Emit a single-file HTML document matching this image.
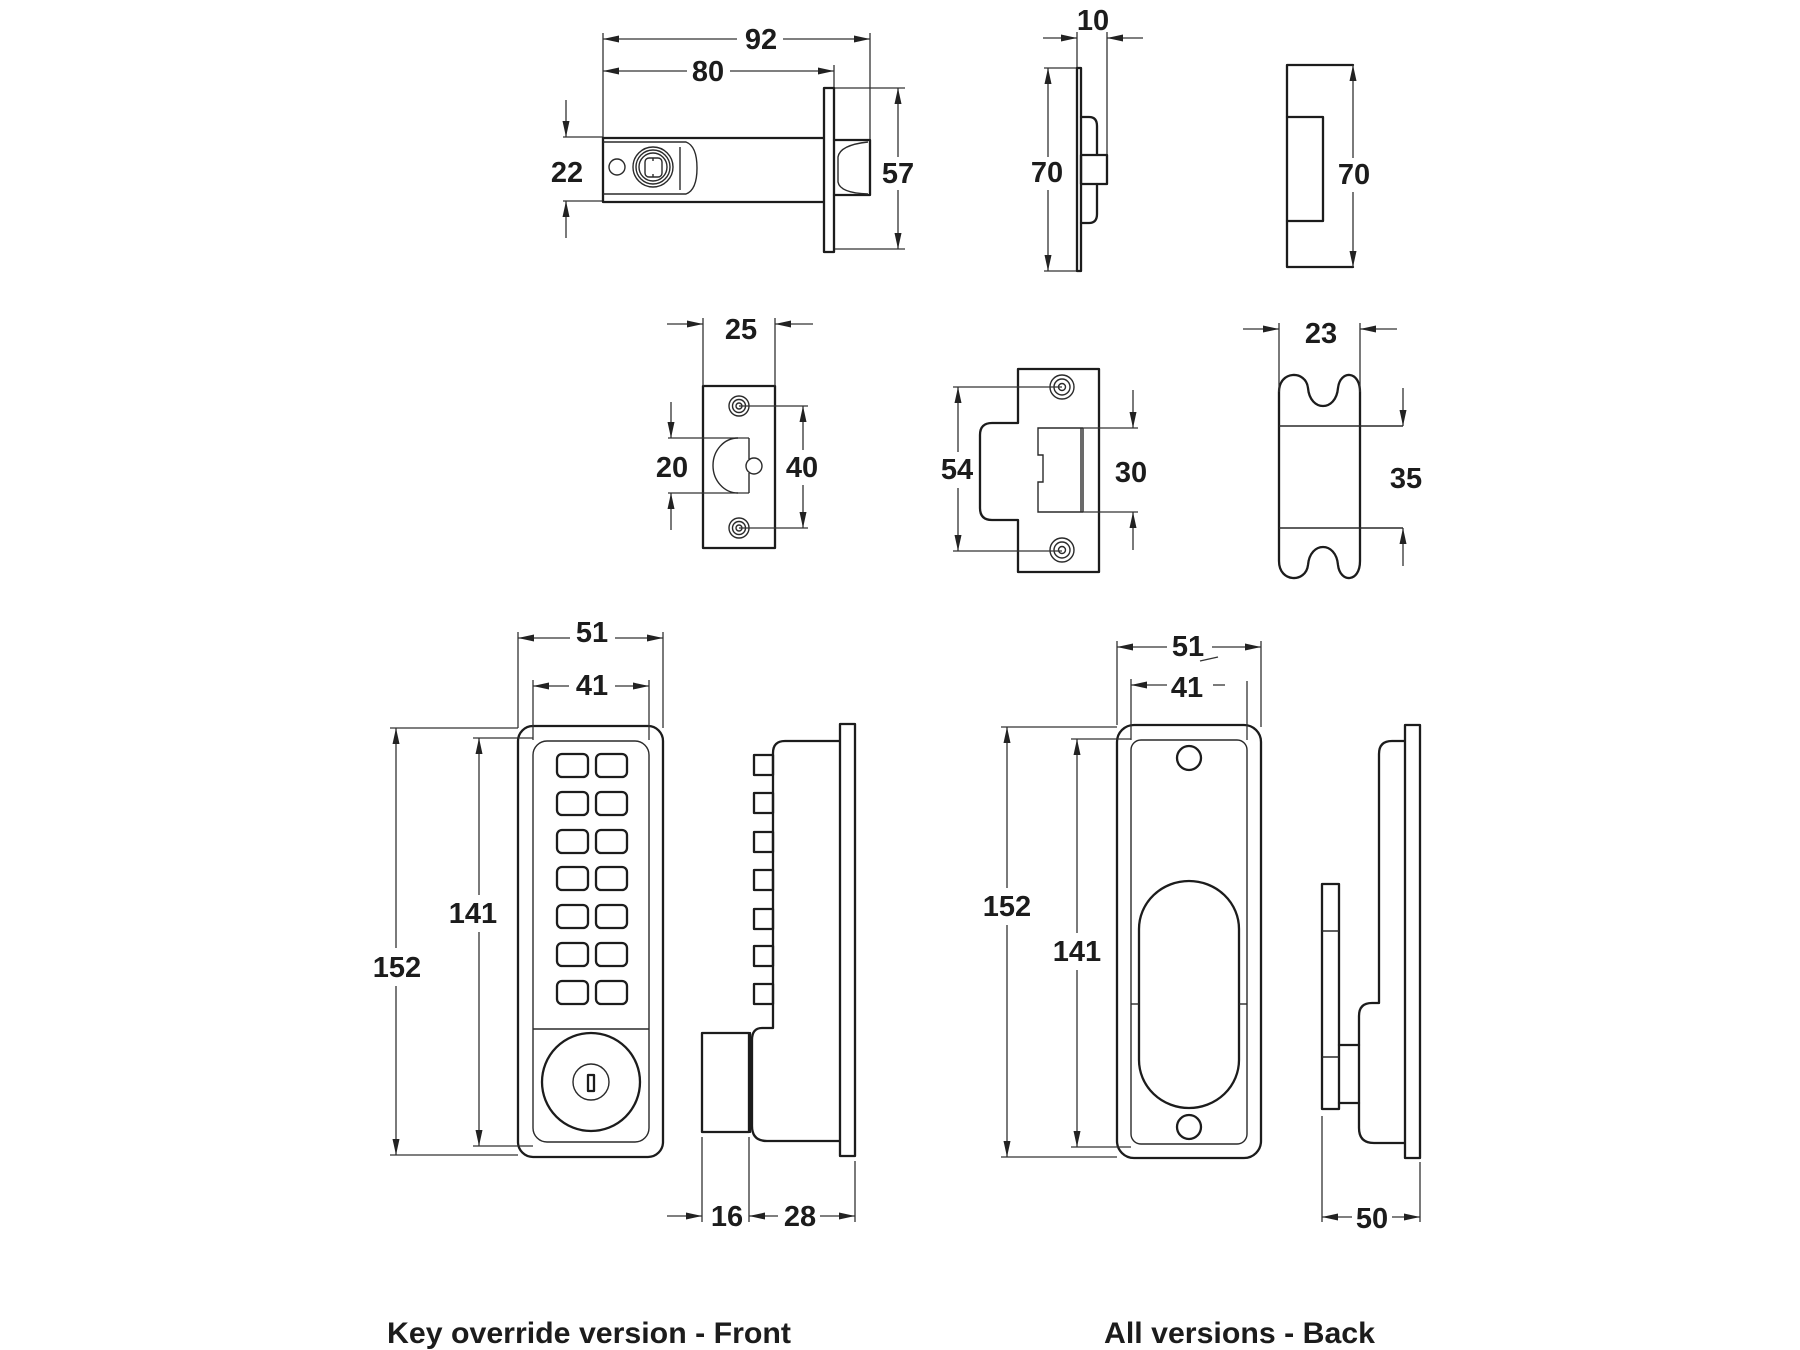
<!DOCTYPE html>
<html><head><meta charset="utf-8"><style>
html,body{margin:0;padding:0;background:#fff;}
svg{display:block;}
.o{fill:none;stroke:#1c1c1c;stroke-width:2.3;stroke-linejoin:round;stroke-linecap:round}
.w{fill:#fff;stroke:#1c1c1c;stroke-width:2.3;stroke-linejoin:round}
.t{fill:none;stroke:#2a2a2a;stroke-width:1.4}
.d{fill:none;stroke:#333;stroke-width:1.3}
text{font-family:"Liberation Sans",Arial,sans-serif;font-weight:bold;font-size:29px;fill:#1c1c1c;text-anchor:middle}
.c{font-size:30px;text-anchor:start}
</style></head><body>
<svg width="1800" height="1350" viewBox="0 0 1800 1350" xmlns="http://www.w3.org/2000/svg">
<defs><marker id="a" viewBox="0 0 16 7" refX="16" refY="3.5" markerWidth="16" markerHeight="7" orient="auto" markerUnits="userSpaceOnUse"><path d="M0 0L16 3.5L0 7z" fill="#222"/></marker></defs>

<!-- ===== LATCH ===== -->
<g>
<line class="d" x1="603" y1="33" x2="603" y2="138"/>
<line class="d" x1="870" y1="33" x2="870" y2="140"/>
<line class="d" x1="834" y1="65" x2="834" y2="88"/>
<line class="d" x1="737" y1="39" x2="603" y2="39" marker-end="url(#a)"/>
<line class="d" x1="783" y1="39" x2="870" y2="39" marker-end="url(#a)"/>
<text x="761" y="49">92</text>
<line class="d" x1="687" y1="71" x2="603" y2="71" marker-end="url(#a)"/>
<line class="d" x1="730" y1="71" x2="834" y2="71" marker-end="url(#a)"/>
<text x="708" y="81">80</text>
<line class="d" x1="563" y1="137" x2="603" y2="137"/>
<line class="d" x1="563" y1="201" x2="603" y2="201"/>
<line class="d" x1="566" y1="100" x2="566" y2="137" marker-end="url(#a)"/>
<line class="d" x1="566" y1="238" x2="566" y2="201" marker-end="url(#a)"/>
<text x="567" y="182">22</text>
<line class="d" x1="834" y1="88" x2="905" y2="88"/>
<line class="d" x1="834" y1="249" x2="905" y2="249"/>
<line class="d" x1="898" y1="157" x2="898" y2="88" marker-end="url(#a)"/>
<line class="d" x1="898" y1="190" x2="898" y2="249" marker-end="url(#a)"/>
<text x="898" y="183">57</text>
<!-- body -->
<path class="o" d="M824 138H603V202H824"/>
<path class="t" d="M603 142H686C694 145 697 155 697 168C697 181 694 191 686 194H603"/>
<line class="t" x1="680" y1="147" x2="680" y2="190"/>
<circle class="t" cx="617" cy="167" r="8"/>
<circle class="t" cx="653" cy="167" r="20"/>
<circle class="t" cx="653" cy="167" r="17"/>
<circle class="t" cx="653" cy="167" r="14"/>
<rect class="t" x="645" y="158" width="17" height="19" rx="4"/>
<line class="t" x1="653" y1="158" x2="653" y2="161"/>
<line class="t" x1="653" y1="174" x2="653" y2="177"/>
<rect class="w" x="824" y="88" width="10" height="164"/>
<path class="o" d="M834 140H870V195H834"/>
<path class="t" d="M868 142Q840 145 838 157V182Q840 193 868 194"/>
</g>

<!-- ===== LATCH SIDE 70/10 ===== -->
<g>
<line class="d" x1="1077" y1="32" x2="1077" y2="68"/>
<line class="d" x1="1107" y1="32" x2="1107" y2="155"/>
<line class="d" x1="1043" y1="38" x2="1077" y2="38" marker-end="url(#a)"/>
<line class="d" x1="1143" y1="38" x2="1107" y2="38" marker-end="url(#a)"/>
<text x="1093" y="30">10</text>
<line class="d" x1="1044" y1="68" x2="1077" y2="68"/>
<line class="d" x1="1044" y1="271" x2="1077" y2="271"/>
<line class="d" x1="1048" y1="157" x2="1048" y2="68" marker-end="url(#a)"/>
<line class="d" x1="1048" y1="190" x2="1048" y2="271" marker-end="url(#a)"/>
<text x="1047" y="182">70</text>
<rect class="o" x="1077" y="68" width="4" height="203"/>
<path class="o" d="M1081 117H1089Q1097 117 1097 126V155M1097 184V214Q1097 223 1089 223H1081"/>
<rect class="o" x="1081" y="155" width="26" height="29"/>
</g>

<!-- ===== STRIKE SIDE 70 ===== -->
<g>
<path class="o" d="M1353 65H1287V267H1353"/>
<path class="o" d="M1287 117H1323V221H1287"/>
<line class="d" x1="1353" y1="158" x2="1353" y2="65" marker-end="url(#a)"/>
<line class="d" x1="1353" y1="192" x2="1353" y2="267" marker-end="url(#a)"/>
<text x="1354" y="184">70</text>
</g>

<!-- ===== PLATE 25/20/40 ===== -->
<g>
<rect class="o" x="703" y="386" width="72" height="162"/>
<line class="d" x1="703" y1="318" x2="703" y2="386"/>
<line class="d" x1="775" y1="318" x2="775" y2="386"/>
<line class="d" x1="667" y1="324" x2="703" y2="324" marker-end="url(#a)"/>
<line class="d" x1="813" y1="324" x2="775" y2="324" marker-end="url(#a)"/>
<text x="741" y="339">25</text>
<circle class="t" cx="739" cy="406" r="10"/>
<circle class="t" cx="739" cy="406" r="6.5"/>
<circle class="t" cx="739" cy="406" r="3"/>
<circle class="t" cx="739" cy="528" r="10"/>
<circle class="t" cx="739" cy="528" r="6.5"/>
<circle class="t" cx="739" cy="528" r="3"/>
<line class="d" x1="739" y1="406" x2="808" y2="406"/>
<line class="d" x1="739" y1="528" x2="808" y2="528"/>
<line class="d" x1="803" y1="450" x2="803" y2="406" marker-end="url(#a)"/>
<line class="d" x1="803" y1="485" x2="803" y2="528" marker-end="url(#a)"/>
<text x="802" y="477">40</text>
<line class="d" x1="668" y1="438" x2="749" y2="438"/>
<line class="d" x1="668" y1="493" x2="749" y2="493"/>
<path class="t" d="M738 438A25 27.5 0 0 0 738 493"/>
<line class="t" x1="749" y1="438" x2="749" y2="459"/>
<line class="t" x1="749" y1="473" x2="749" y2="493"/>
<circle class="t" cx="754" cy="466" r="8"/>
<line class="d" x1="671" y1="402" x2="671" y2="438" marker-end="url(#a)"/>
<line class="d" x1="671" y1="530" x2="671" y2="493" marker-end="url(#a)"/>
<text x="672" y="477">20</text>
</g>

<!-- ===== STRIKE 54/30 ===== -->
<g>
<path class="o" d="M1018 369H1099V572H1018V520H992Q980 520 980 508V435Q980 423 992 423H1018Z"/>
<circle class="t" cx="1062" cy="387" r="12"/>
<circle class="t" cx="1062" cy="387" r="8"/>
<circle class="t" cx="1062" cy="387" r="3.5"/>
<circle class="t" cx="1062" cy="550" r="12"/>
<circle class="t" cx="1062" cy="550" r="8"/>
<circle class="t" cx="1062" cy="550" r="3.5"/>
<path class="t" d="M1083 428H1038V455H1043V482H1038V512H1083"/>
<line class="t" x1="1081" y1="428" x2="1081" y2="512"/>
<line class="t" x1="1083" y1="428" x2="1083" y2="512"/>
<line class="d" x1="953" y1="387" x2="1062" y2="387"/>
<line class="d" x1="953" y1="551" x2="1062" y2="551"/>
<line class="d" x1="958" y1="452" x2="958" y2="387" marker-end="url(#a)"/>
<line class="d" x1="958" y1="488" x2="958" y2="551" marker-end="url(#a)"/>
<text x="957" y="479">54</text>
<line class="d" x1="1083" y1="428" x2="1138" y2="428"/>
<line class="d" x1="1083" y1="512" x2="1138" y2="512"/>
<line class="d" x1="1133" y1="390" x2="1133" y2="428" marker-end="url(#a)"/>
<line class="d" x1="1133" y1="550" x2="1133" y2="512" marker-end="url(#a)"/>
<text x="1131" y="482">30</text>
</g>

<!-- ===== KEEP 23/35 ===== -->
<g>
<path class="o" d="M1279 561V392C1279 370 1306 370 1308 388C1310 412 1336 412 1338 388C1340 370 1360 370 1360 392V561C1360 583 1340 583 1338 565C1336 541 1310 541 1308 565C1306 583 1279 583 1279 561Z"/>
<line class="t" x1="1279" y1="426" x2="1403" y2="426"/>
<line class="t" x1="1279" y1="528" x2="1403" y2="528"/>
<line class="d" x1="1403" y1="388" x2="1403" y2="426" marker-end="url(#a)"/>
<line class="d" x1="1403" y1="566" x2="1403" y2="528" marker-end="url(#a)"/>
<text x="1406" y="488">35</text>
<line class="d" x1="1279" y1="323" x2="1279" y2="392"/>
<line class="d" x1="1360" y1="323" x2="1360" y2="392"/>
<line class="d" x1="1243" y1="329" x2="1279" y2="329" marker-end="url(#a)"/>
<line class="d" x1="1397" y1="329" x2="1360" y2="329" marker-end="url(#a)"/>
<text x="1321" y="343">23</text>
</g>

<!-- ===== FRONT KEYPAD ===== -->
<g>
<rect class="o" x="518" y="726" width="145" height="431" rx="15" stroke-width="2.6"/>
<rect class="t" x="533" y="741" width="116" height="401" rx="14" stroke-width="1.6"/>
<line class="t" x1="533" y1="1029" x2="649" y2="1029" stroke-width="1.6"/>
<g class="o" stroke-width="2.2">
<rect x="557" y="754" width="31" height="23" rx="5"/><rect x="596" y="754" width="31" height="23" rx="5"/>
<rect x="557" y="792" width="31" height="23" rx="5"/><rect x="596" y="792" width="31" height="23" rx="5"/>
<rect x="557" y="830" width="31" height="23" rx="5"/><rect x="596" y="830" width="31" height="23" rx="5"/>
<rect x="557" y="867" width="31" height="23" rx="5"/><rect x="596" y="867" width="31" height="23" rx="5"/>
<rect x="557" y="905" width="31" height="23" rx="5"/><rect x="596" y="905" width="31" height="23" rx="5"/>
<rect x="557" y="943" width="31" height="23" rx="5"/><rect x="596" y="943" width="31" height="23" rx="5"/>
<rect x="557" y="981" width="31" height="23" rx="5"/><rect x="596" y="981" width="31" height="23" rx="5"/>
</g>
<circle class="o" cx="591" cy="1082" r="49"/>
<circle class="t" cx="591" cy="1082" r="18"/>
<rect class="o" x="588" y="1075" width="6" height="16" stroke-width="1.8"/>
<line class="d" x1="518" y1="632" x2="518" y2="728"/>
<line class="d" x1="663" y1="632" x2="663" y2="728"/>
<line class="d" x1="570" y1="638" x2="518" y2="638" marker-end="url(#a)"/>
<line class="d" x1="615" y1="638" x2="663" y2="638" marker-end="url(#a)"/>
<text x="592" y="642">51</text>
<line class="d" x1="533" y1="680" x2="533" y2="740"/>
<line class="d" x1="649" y1="680" x2="649" y2="740"/>
<line class="d" x1="569" y1="686" x2="533" y2="686" marker-end="url(#a)"/>
<line class="d" x1="615" y1="686" x2="649" y2="686" marker-end="url(#a)"/>
<text x="592" y="695">41</text>
<line class="d" x1="390" y1="728" x2="518" y2="728"/>
<line class="d" x1="390" y1="1155" x2="518" y2="1155"/>
<line class="d" x1="396" y1="948" x2="396" y2="728" marker-end="url(#a)"/>
<line class="d" x1="396" y1="986" x2="396" y2="1155" marker-end="url(#a)"/>
<text x="397" y="977">152</text>
<line class="d" x1="473" y1="738" x2="533" y2="738"/>
<line class="d" x1="473" y1="1146" x2="533" y2="1146"/>
<line class="d" x1="479" y1="895" x2="479" y2="738" marker-end="url(#a)"/>
<line class="d" x1="479" y1="932" x2="479" y2="1146" marker-end="url(#a)"/>
<text x="473" y="923">141</text>
</g>

<!-- ===== FRONT SIDE ===== -->
<g>
<path class="o" d="M840 741H785Q773 741 773 753V1028H762Q752 1028 752 1040V1126Q752 1141 767 1141H840"/>
<g class="o">
<rect x="754" y="755" width="19" height="20"/>
<rect x="754" y="793" width="19" height="20"/>
<rect x="754" y="832" width="19" height="20"/>
<rect x="754" y="870" width="19" height="20"/>
<rect x="754" y="909" width="19" height="20"/>
<rect x="754" y="946" width="19" height="20"/>
<rect x="754" y="984" width="19" height="20"/>
</g>
<rect class="w" x="840" y="724" width="15" height="432"/>
<rect class="o" x="702" y="1033" width="47" height="99"/>
<line class="o" x1="750" y1="1033" x2="750" y2="1132" stroke-width="3.2"/>
<line class="d" x1="702" y1="1137" x2="702" y2="1222"/>
<line class="d" x1="749" y1="1137" x2="749" y2="1222"/>
<line class="d" x1="855" y1="1161" x2="855" y2="1222"/>
<line class="d" x1="667" y1="1216" x2="702" y2="1216" marker-end="url(#a)"/>
<text x="727" y="1226">16</text>
<line class="d" x1="778" y1="1216" x2="749" y2="1216" marker-end="url(#a)"/>
<line class="d" x1="820" y1="1216" x2="855" y2="1216" marker-end="url(#a)"/>
<text x="800" y="1226">28</text>
</g>

<!-- ===== BACK VIEW ===== -->
<g>
<rect class="o" x="1117" y="725" width="144" height="433" rx="17" stroke-width="2.6"/>
<rect class="t" x="1131" y="740" width="116" height="404" rx="10" stroke-width="1.5"/>
<circle class="w" cx="1189" cy="758" r="12" stroke-width="2"/>
<circle class="w" cx="1189" cy="1127" r="12" stroke-width="2"/>
<rect class="o" x="1139" y="881" width="100" height="227" rx="50" ry="48"/>
<line class="t" x1="1131" y1="1004" x2="1139" y2="1004" stroke-width="1.1"/>
<line class="t" x1="1239" y1="1004" x2="1247" y2="1004" stroke-width="1.1"/>
<line class="d" x1="1117" y1="641" x2="1117" y2="725"/>
<line class="d" x1="1261" y1="641" x2="1261" y2="727"/>
<line class="d" x1="1167" y1="647" x2="1117" y2="647" marker-end="url(#a)"/>
<line class="d" x1="1212" y1="647" x2="1261" y2="647" marker-end="url(#a)"/>
<text x="1188" y="656">51</text>
<line class="d" x1="1200" y1="661" x2="1218" y2="657"/>
<line class="d" x1="1131" y1="679" x2="1131" y2="740"/>
<line class="d" x1="1247" y1="681" x2="1247" y2="740"/>
<line class="d" x1="1167" y1="685" x2="1131" y2="685" marker-end="url(#a)"/>
<line class="d" x1="1213" y1="685" x2="1225" y2="685"/>
<text x="1187" y="697">41</text>
<line class="d" x1="1001" y1="727" x2="1117" y2="727"/>
<line class="d" x1="1001" y1="1157" x2="1117" y2="1157"/>
<line class="d" x1="1007" y1="888" x2="1007" y2="727" marker-end="url(#a)"/>
<line class="d" x1="1007" y1="925" x2="1007" y2="1157" marker-end="url(#a)"/>
<text x="1007" y="916">152</text>
<line class="d" x1="1071" y1="739" x2="1131" y2="739"/>
<line class="d" x1="1071" y1="1147" x2="1131" y2="1147"/>
<line class="d" x1="1077" y1="933" x2="1077" y2="739" marker-end="url(#a)"/>
<line class="d" x1="1077" y1="970" x2="1077" y2="1147" marker-end="url(#a)"/>
<text x="1077" y="961">141</text>
</g>

<!-- ===== BACK SIDE ===== -->
<g>
<path class="o" d="M1405 741H1392Q1379 741 1379 754V1003H1372Q1359 1003 1359 1016V1128Q1359 1143 1374 1143H1405"/>
<rect class="w" x="1405" y="725" width="15" height="433"/>
<rect class="w" x="1322" y="884" width="17" height="225"/>
<line class="t" x1="1322" y1="931" x2="1339" y2="931"/>
<line class="t" x1="1322" y1="1057" x2="1339" y2="1057"/>
<line class="o" x1="1339" y1="1045" x2="1359" y2="1045"/>
<line class="o" x1="1339" y1="1103" x2="1359" y2="1103"/>
<line class="d" x1="1322" y1="1116" x2="1322" y2="1222"/>
<line class="d" x1="1420" y1="1162" x2="1420" y2="1222"/>
<line class="d" x1="1352" y1="1217" x2="1322" y2="1217" marker-end="url(#a)"/>
<line class="d" x1="1392" y1="1217" x2="1420" y2="1217" marker-end="url(#a)"/>
<text x="1372" y="1228">50</text>
</g>

<!-- ===== CAPTIONS ===== -->
<text class="c" x="387" y="1343" textLength="404" lengthAdjust="spacingAndGlyphs">Key override version - Front</text>
<text class="c" x="1104" y="1343" textLength="271" lengthAdjust="spacingAndGlyphs">All versions - Back</text>
</svg>
</body></html>
